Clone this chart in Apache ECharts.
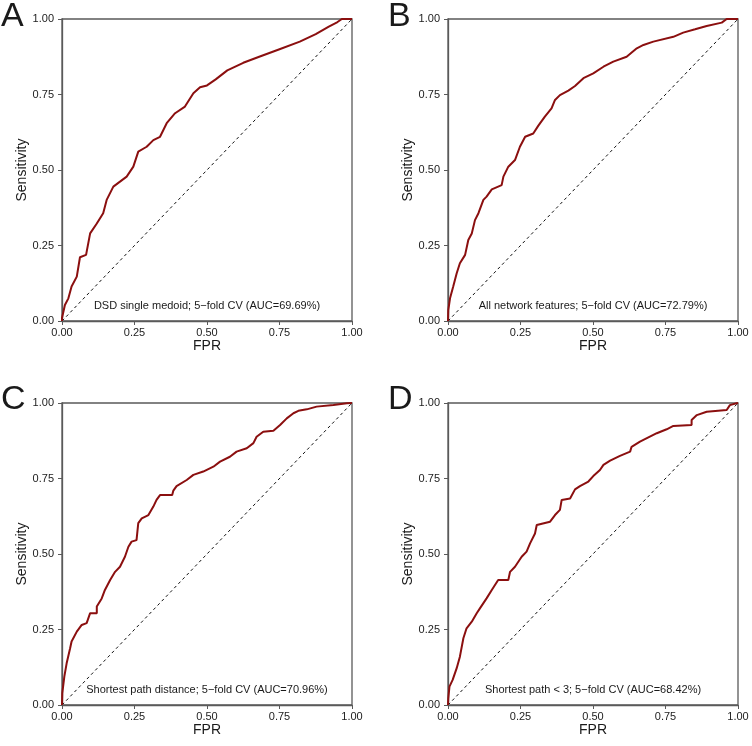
<!DOCTYPE html>
<html lang="en">
<head>
    <meta charset="UTF-8">
    <title>ROC curves</title>
    <script src="https://cdn.jsdelivr.net/npm/echarts@6/dist/echarts.min.js"></script>
    <style>
        html, body { margin: 0; padding: 0; background: #fff; }
        #chart { width: 752px; height: 746px; }
    </style>
</head>
<body>
    <div id="chart"></div>
    <script>
        // ROC points [FPR, Sensitivity]
        const rocA = [[0,0],[0,0.01],[0.010,0.053],[0.022,0.075],[0.033,0.114],[0.051,0.147],[0.062,0.211],[0.083,0.219],[0.097,0.290],[0.120,0.323],[0.142,0.357],[0.154,0.401],[0.177,0.445],[0.223,0.478],[0.246,0.511],[0.263,0.561],[0.292,0.577],[0.315,0.599],[0.338,0.610],[0.361,0.655],[0.390,0.688],[0.424,0.710],[0.453,0.754],[0.476,0.774],[0.50,0.78],[0.53,0.80],[0.57,0.83],[0.625,0.855],[0.68,0.875],[0.75,0.90],[0.82,0.925],[0.875,0.95],[0.92,0.975],[0.95,0.99],[0.965,1.0],[1,1]];
        const rocB = [[0,0],[0.001,0.036],[0.007,0.075],[0.018,0.114],[0.030,0.158],[0.041,0.191],[0.059,0.219],[0.070,0.268],[0.082,0.290],[0.093,0.334],[0.105,0.357],[0.122,0.401],[0.133,0.412],[0.151,0.436],[0.185,0.450],[0.191,0.478],[0.208,0.511],[0.231,0.533],[0.248,0.577],[0.266,0.610],[0.294,0.621],[0.311,0.646],[0.334,0.677],[0.357,0.704],[0.369,0.732],[0.386,0.748],[0.415,0.763],[0.438,0.778],[0.467,0.804],[0.501,0.820],[0.536,0.842],[0.570,0.859],[0.616,0.875],[0.651,0.903],[0.674,0.914],[0.708,0.925],[0.777,0.941],[0.811,0.955],[0.852,0.966],[0.892,0.977],[0.944,0.988],[0.961,1.0],[1,1]];
        const rocC = [[0,0],[0.001,0.039],[0.008,0.094],[0.016,0.138],[0.028,0.188],[0.033,0.210],[0.051,0.243],[0.068,0.265],[0.085,0.271],[0.097,0.304],[0.120,0.304],[0.120,0.326],[0.137,0.353],[0.148,0.381],[0.166,0.414],[0.183,0.441],[0.2,0.458],[0.217,0.491],[0.229,0.524],[0.240,0.541],[0.257,0.546],[0.263,0.602],[0.275,0.618],[0.298,0.629],[0.315,0.657],[0.326,0.679],[0.338,0.695],[0.380,0.695],[0.384,0.710],[0.395,0.725],[0.430,0.745],[0.453,0.762],[0.487,0.773],[0.522,0.789],[0.545,0.806],[0.579,0.822],[0.602,0.839],[0.637,0.850],[0.660,0.867],[0.671,0.888],[0.694,0.905],[0.729,0.908],[0.752,0.927],[0.775,0.949],[0.798,0.966],[0.815,0.974],[0.844,0.979],[0.878,0.988],[0.936,0.993],[0.982,0.999],[1,1]];
        const rocD = [[0,0],[0.001,0.022],[0.005,0.061],[0.016,0.083],[0.030,0.122],[0.041,0.160],[0.053,0.221],[0.064,0.254],[0.082,0.276],[0.099,0.304],[0.110,0.320],[0.133,0.353],[0.151,0.381],[0.173,0.414],[0.208,0.414],[0.214,0.441],[0.231,0.458],[0.254,0.491],[0.271,0.508],[0.283,0.535],[0.3,0.568],[0.306,0.596],[0.352,0.607],[0.369,0.629],[0.386,0.646],[0.392,0.679],[0.421,0.684],[0.438,0.714],[0.455,0.725],[0.484,0.740],[0.501,0.758],[0.524,0.778],[0.536,0.795],[0.559,0.809],[0.593,0.825],[0.628,0.839],[0.633,0.855],[0.662,0.872],[0.691,0.886],[0.720,0.900],[0.754,0.913],[0.777,0.924],[0.840,0.927],[0.840,0.944],[0.858,0.960],[0.892,0.971],[0.961,0.977],[0.972,0.993],[0.995,0.999],[1,1]];
        const diagonal = [[0,0],[1,1]];

        const panelLetters = ['A', 'B', 'C', 'D'];
        const panelNotes = [
            'DSD single medoid; 5\u2212fold CV (AUC=69.69%)',
            'All network features; 5\u2212fold CV (AUC=72.79%)',
            'Shortest path distance; 5\u2212fold CV (AUC=70.96%)',
            'Shortest path < 3; 5\u2212fold CV (AUC=68.42%)'
        ];
        const panelCurves = [rocA, rocB, rocC, rocD];

        // grid positions (px)
        const lefts = [62, 448, 62, 448];
        const tops = [19, 19, 403, 403];
        const font = '"Liberation Sans", Arial, sans-serif';
        const axisColor = '#5a5a5a';

        const grids = [], xAxes = [], yAxes = [], series = [], graphics = [];
        for (let i = 0; i < 4; i++) {
            grids.push({
                left: lefts[i], top: tops[i], width: 290, height: 302,
                show: true, borderColor: axisColor, borderWidth: 1.3,
                backgroundColor: 'transparent'
            });
            const axisCommon = {
                gridIndex: i, type: 'value', min: 0, max: 1, interval: 0.25,
                nameLocation: 'middle',
                nameTextStyle: { fontSize: 14, color: '#1a1a1a', fontFamily: font },
                axisLine: { show: true, onZero: false, lineStyle: { color: axisColor, width: 1.3 } },
                axisTick: { show: true, length: 4, lineStyle: { color: axisColor, width: 1 } },
                axisLabel: {
                    fontSize: 11, color: '#222', fontFamily: font,
                    formatter: v => v.toFixed(2)
                },
                splitLine: { show: false }
            };
            xAxes.push(Object.assign({}, axisCommon, {
                name: 'FPR', nameGap: 18,
                axisLabel: Object.assign({}, axisCommon.axisLabel, { margin: 6 })
            }));
            yAxes.push(Object.assign({}, axisCommon, {
                name: 'Sensitivity', nameGap: 24,
                axisLabel: Object.assign({}, axisCommon.axisLabel, { margin: 8 })
            }));
            series.push({
                type: 'line', xAxisIndex: i, yAxisIndex: i,
                data: diagonal, symbol: 'none', silent: true,
                lineStyle: { color: '#111', width: 1, type: [3, 3] }
            });
            series.push({
                type: 'line', xAxisIndex: i, yAxisIndex: i,
                data: panelCurves[i], symbol: 'none', silent: true,
                lineStyle: { color: '#8b0f0f', width: 2 },
                markPoint: {
                    symbol: 'circle', symbolSize: 0,
                    data: [{ coord: [0.5, 0.05] }],
                    label: {
                        show: true, position: 'inside', formatter: panelNotes[i],
                        fontSize: 11, color: '#1a1a1a', fontFamily: font
                    }
                }
            });
            graphics.push({
                type: 'text',
                left: (i % 2 === 0) ? 1 : 388,
                top: (i < 2) ? 0 : 383,
                style: { text: panelLetters[i], fontSize: 34, fill: '#1a1a1a', fontFamily: font }
            });
        }

        const chart = echarts.init(document.getElementById('chart'), null, { renderer: 'canvas' });
        chart.setOption({
            animation: false,
            backgroundColor: '#fff',
            grid: grids,
            xAxis: xAxes,
            yAxis: yAxes,
            series: series,
            graphic: graphics
        });
    </script>
</body>
</html>
